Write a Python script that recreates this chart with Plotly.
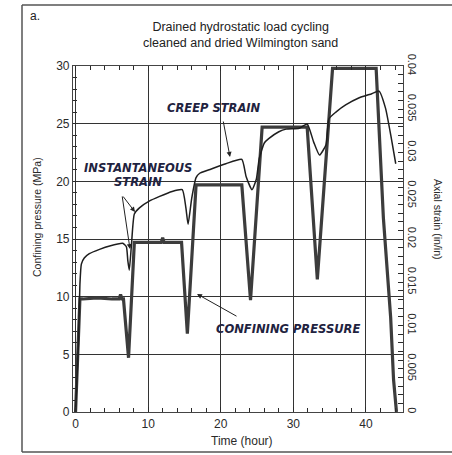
import plotly.graph_objects as go

# Confining pressure (MPa) vs time (hour)
pressure_t = [0, 0.3, 0.6, 1.0, 3.0, 5.0, 6.0, 6.2, 6.4, 6.6, 7.3, 8.1, 10.0, 11.8, 12.0, 12.2,
              14.6, 15.4, 16.6, 19.0, 22.9, 24.1, 25.7, 28.0, 31.9, 33.3, 35.4, 38.0, 41.4,
              42.4, 43.4, 43.8, 44.2]
pressure = [0, 5.0, 9.8, 9.8, 9.9, 9.8, 9.8, 10.2, 9.8, 9.8, 4.7, 14.7, 14.7, 14.7, 15.1, 14.7,
            14.7, 6.8, 19.7, 19.7, 19.7, 9.7, 24.7, 24.7, 24.7, 11.5, 29.8, 29.8, 29.8,
            16.8, 8.2, 2.8, 0]

# Axial strain (in/in) vs time (hour)
strain_t = [0, 0.4, 0.6, 0.8, 1.2, 1.9, 3.3, 4.7, 6.5, 7.0, 7.2, 7.4, 7.7, 8.1, 8.8, 10.2, 11.5,
            13.3, 14.7, 15.2, 15.5, 16.0, 16.6, 17.1, 18.4, 20.7, 22.9, 23.5, 24.3, 24.9, 25.3,
            26.0, 26.6, 28.0, 29.0, 30.8, 31.9, 32.8, 33.6, 34.5, 34.9, 35.9, 37.2, 39.0, 40.8,
            41.8, 42.7, 43.5, 44.1]
strain = [0, 0.0080, 0.0147, 0.0171, 0.0178, 0.0183, 0.0188, 0.0192, 0.0195, 0.0191, 0.0175,
          0.0164, 0.0193, 0.0229, 0.0236, 0.0244, 0.0249, 0.0255, 0.0257, 0.0236, 0.0217,
          0.0247, 0.0271, 0.0276, 0.0280, 0.0287, 0.0292, 0.0272, 0.0257, 0.0269, 0.0293,
          0.0311, 0.0316, 0.0324, 0.0327, 0.0328, 0.0333, 0.0312, 0.0297, 0.0309, 0.0339,
          0.0347, 0.0355, 0.0363, 0.0368, 0.0371, 0.0351, 0.0316, 0.0287]

x_ticks = [0, 10, 20, 30, 40]
p_ticks = [0, 5, 10, 15, 20, 25, 30]
s_ticks = [0, 0.005, 0.01, 0.015, 0.02, 0.025, 0.03, 0.035, 0.04]
s_labels = ["0", "0.005", "0.01", "0.015", "0.02", "0.025", "0.03", "0.035", "0.04"]

FONT = "Liberation Sans Narrow, Arial Narrow, Liberation Sans, Arial, sans-serif"
INK = "#2a2a2a"
NOTE = "#1f2340"

fig = go.Figure()
fig.add_trace(go.Scatter(x=pressure_t, y=pressure, mode="lines",
                         line=dict(color="#3c3c3c", width=3.2), showlegend=False))
fig.add_trace(go.Scatter(x=strain_t, y=strain, mode="lines", yaxis="y2",
                         line=dict(color="#1e1e1e", width=1.5, shape="spline", smoothing=0.5),
                         showlegend=False))

L, R, T, B = 73, 403, 66, 412
W, H = 452, 455


def px(x):
    return (x - L) / (R - L)


def py(y):
    return (B - y) / (B - T)


fig.update_layout(
    width=W, height=H,
    margin=dict(l=L, r=W - R, t=T, b=H - B),
    paper_bgcolor="white", plot_bgcolor="white",
    font=dict(family=FONT, color=INK, size=11),
    xaxis=dict(range=[-0.35, 45.1], tickvals=x_ticks, ticks="inside", ticklen=5,
               tickcolor=INK, showline=True, linecolor="#444", linewidth=1.2,
               mirror="ticks", showgrid=True, gridcolor="#333", gridwidth=1.2,
               zeroline=False, tickfont=dict(size=12),
               minor=dict(dtick=2, tick0=0, ticks="inside", ticklen=4, tickcolor=INK,
                          showgrid=False)),
    yaxis=dict(range=[0, 30], tickvals=p_ticks, ticks="inside", ticklen=5, tickcolor=INK,
               showline=True, linecolor="#444", linewidth=1.2, showgrid=True,
               gridcolor="#333", gridwidth=1.2, zeroline=False, tickfont=dict(size=12),
               minor=dict(dtick=1, tick0=0, ticks="inside", ticklen=4, tickcolor=INK,
                          showgrid=False)),
    yaxis2=dict(range=[0, 0.04], overlaying="y", side="right", tickvals=s_ticks,
                ticktext=s_labels, tickangle=90, ticks="inside", ticklen=5, tickcolor=INK,
                showline=True, linecolor="#444", linewidth=1.2, showgrid=False,
                zeroline=False, tickfont=dict(size=11),
                minor=dict(dtick=0.001, tick0=0, ticks="inside", ticklen=5, tickcolor=INK,
                           showgrid=False)),
)

ann = []
# title & panel label
ann.append(dict(xref="paper", yref="paper", x=px(240), y=py(35), text="Drained hydrostatic load cycling<br>cleaned and dried Wilmington sand",
                showarrow=False, font=dict(size=12.5, color="#222"), xanchor="center", yanchor="middle"))
ann.append(dict(xref="paper", yref="paper", x=px(35), y=py(16), text="a.", showarrow=False,
                font=dict(size=12, color="#222"), xanchor="center", yanchor="middle"))
# axis titles
ann.append(dict(xref="paper", yref="paper", x=px(37), y=py(217), text="Confining pressure (MPa)",
                textangle=-90, showarrow=False, font=dict(size=10.5), xanchor="center", yanchor="middle"))
ann.append(dict(xref="paper", yref="paper", x=px(438), y=py(220), text="Axial strain (in/in)",
                textangle=90, showarrow=False, font=dict(size=10.5), xanchor="center", yanchor="middle"))
ann.append(dict(xref="paper", yref="paper", x=px(242), y=py(441), text="Time (hour)",
                showarrow=False, font=dict(size=12), xanchor="center", yanchor="middle"))

note_font = dict(size=11.5, color=NOTE, family="DejaVu Sans, Verdana, sans-serif")
arrow = dict(showarrow=True, arrowhead=2, arrowsize=1, arrowwidth=1, arrowcolor="#222", text="",
             xref="paper", yref="paper")
# CREEP STRAIN
ann.append(dict(xref="paper", yref="paper", x=px(214), y=py(108), text="<b><i>CREEP STRAIN</i></b>",
                showarrow=False, font=note_font, xanchor="center", yanchor="middle"))
ann.append(dict(x=px(230), y=py(157), ax=-7, ay=-37, **arrow))
# INSTANTANEOUS STRAIN
ann.append(dict(xref="paper", yref="paper", x=px(138), y=py(168), text="<b><i>INSTANTANEOUS</i></b>",
                showarrow=False, font=note_font, xanchor="center", yanchor="middle"))
ann.append(dict(xref="paper", yref="paper", x=px(138), y=py(182), text="<b><i>STRAIN</i></b>",
                showarrow=False, font=note_font, xanchor="center", yanchor="middle"))
ann.append(dict(x=px(135), y=py(212), ax=-13, ay=-17, **arrow))
ann.append(dict(x=px(130), y=py(249), ax=-8, ay=-54, **arrow))
# CONFINING PRESSURE
ann.append(dict(xref="paper", yref="paper", x=px(288), y=py(329), text="<b><i>CONFINING PRESSURE</i></b>",
                showarrow=False, font=note_font, xanchor="center", yanchor="middle"))
ann.append(dict(x=px(197), y=py(294), ax=41, ay=23, **arrow))

fig.update_layout(annotations=ann)

# outer frame of the figure panel
frame = dict(color="#555", width=1.5)
fig.add_shape(type="line", xref="paper", yref="paper", x0=px(22), x1=px(460), y0=py(5), y1=py(5), line=frame)
fig.add_shape(type="line", xref="paper", yref="paper", x0=px(22), x1=px(22), y0=py(5), y1=py(452), line=frame)
fig.add_shape(type="line", xref="paper", yref="paper", x0=px(22), x1=px(460), y0=py(452), y1=py(452), line=frame)

fig.write_html("out.html")
